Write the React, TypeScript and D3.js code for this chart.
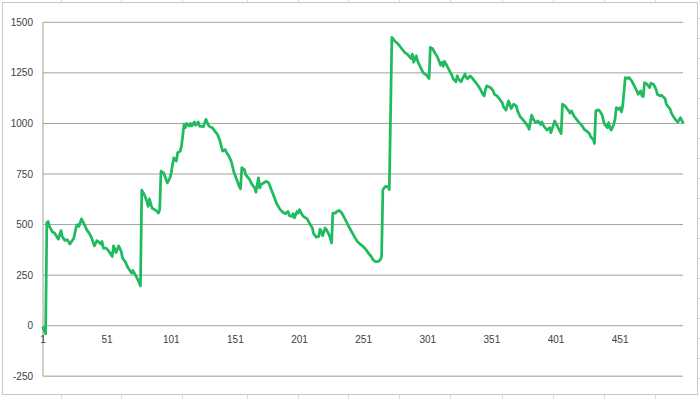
import React from "react";
import * as d3 from "d3";

// Category index (x) of each observed vertex of the series
const pointIndex = [
  1, 2, 3, 4, 5, 6, 8, 10, 13, 15, 16, 18, 20, 22, 25, 27, 28, 29, 31, 33, 35, 37, 39, 41, 43, 44, 46, 47, 48, 50,
  52, 55, 56, 58, 60, 62, 63, 65, 67, 70, 71, 73, 75, 77, 78, 80, 82, 83, 84, 86, 88, 90, 91, 92, 93, 95, 98, 100,
  101, 102, 103, 105, 106, 108, 109, 111, 112, 113, 115, 116, 117, 119, 120, 122, 123, 126, 128, 130, 131, 133,
  135, 137, 139, 140, 141, 143, 144, 146, 148, 149, 150, 152, 154, 155, 156, 158, 159, 162, 164, 166, 167, 169,
  170, 171, 175, 177, 179, 181, 183, 184, 186, 188, 190, 192, 193, 195, 196, 197, 199, 200, 201, 203, 204, 207,
  209, 211, 212, 214, 216, 217, 218, 219, 221, 222, 224, 225, 226, 227, 229, 230, 232, 234, 236, 238, 240, 242,
  244, 246, 248, 250, 251, 253, 255, 257, 258, 260, 262, 264, 265, 266, 268, 270, 271, 273, 275, 277, 279, 281,
  283, 285, 286, 288, 289, 290, 292, 293, 295, 297, 298, 300, 302, 303, 305, 306, 308, 309, 311, 312, 313, 314,
  316, 318, 320, 321, 323, 324, 325, 327, 328, 330, 331, 332, 334, 336, 338, 340, 342, 344, 345, 346, 347, 350,
  352, 353, 355, 357, 359, 360, 362, 364, 365, 366, 368, 370, 371, 373, 375, 377, 379, 380, 382, 383, 385, 387,
  389, 390, 391, 393, 394, 396, 397, 400, 402, 404, 405, 406, 408, 410, 412, 413, 415, 417, 419, 421, 423, 425,
  427, 428, 430, 431, 432, 434, 435, 437, 438, 439, 441, 442, 443, 444, 446, 447, 448, 450, 451, 452, 453, 455,
  457, 458, 460, 462, 464, 465, 467, 468, 469, 470, 472, 474, 475, 477, 479, 480, 482, 483, 486, 487, 488, 490,
  491, 493, 495, 496, 498, 500,
];

// Series value at each of those vertices
const pointValue = [
  -10, -25, -40, 510, 515, 491, 466, 458, 428, 470, 441, 422, 425, 404, 433, 491, 500, 491, 528, 504, 475, 458, 433,
  395, 420, 417, 404, 417, 384, 384, 372, 342, 395, 362, 395, 367, 334, 318, 290, 260, 273, 251, 227, 197, 670, 648,
  615, 590, 627, 582, 574, 565, 557, 574, 764, 756, 706, 731, 756, 797, 830, 814, 855, 863, 888, 996, 979, 1000, 987,
  1000, 987, 1007, 991, 1007, 987, 984, 1020, 991, 984, 979, 962, 946, 913, 888, 863, 871, 858, 838, 808, 781, 756,
  723, 689, 677, 781, 772, 747, 723, 698, 681, 660, 731, 681, 698, 714, 706, 673, 640, 607, 594, 574, 561, 554, 565,
  544, 541, 554, 533, 565, 557, 574, 549, 541, 528, 504, 483, 455, 438, 441, 478, 466, 445, 483, 475, 450, 433, 409,
  557, 557, 565, 570, 557, 533, 508, 483, 461, 438, 417, 405, 395, 389, 375, 356, 342, 329, 317, 317, 326, 342, 673,
  689, 686, 673, 1425, 1409, 1398, 1384, 1367, 1351, 1343, 1335, 1321, 1343, 1302, 1334, 1310, 1282, 1255, 1248,
  1239, 1222, 1376, 1368, 1354, 1334, 1321, 1288, 1302, 1282, 1307, 1285, 1260, 1235, 1219, 1206, 1235, 1219, 1206,
  1220, 1244, 1227, 1220, 1235, 1222, 1206, 1189, 1169, 1144, 1136, 1169, 1186, 1177, 1161, 1144, 1136, 1120, 1103,
  1083, 1066, 1111, 1095, 1073, 1095, 1087, 1062, 1034, 1020, 1004, 987, 971, 1041, 1024, 1004, 1012, 995, 1007, 991,
  974, 967, 979, 954, 1012, 987, 962, 950, 1095, 1087, 1070, 1051, 1062, 1037, 1020, 1004, 991, 971, 962, 950, 934,
  921, 901, 1062, 1067, 1062, 1041, 1012, 995, 979, 1004, 979, 967, 995, 1021, 1078, 1070, 1078, 1057, 1087, 1227,
  1222, 1227, 1211, 1186, 1161, 1144, 1161, 1136, 1133, 1202, 1194, 1177, 1199, 1194, 1169, 1144, 1136, 1140, 1123,
  1095, 1087, 1070, 1051, 1029, 1012, 1007, 1029, 1004,
];

const xTickLabels = [1, 51, 101, 151, 201, 251, 301, 351, 401, 451];
const yTickValues = [-250, 0, 250, 500, 750, 1000, 1250, 1500];

const W = 700;
const H = 399;

export default function App() {
  const x = d3.scaleLinear().domain([1, 500]).range([43, 683]);
  const y = d3.scaleLinear().domain([-250, 1500]).range([376.3, 22.3]);

  const data = pointIndex.map((i, k) => [i, pointValue[k]] as [number, number]);
  const line = d3
    .line<[number, number]>()
    .x((d) => x(d[0]))
    .y((d) => y(d[1]));

  const cellCols = [61, 121, 182, 247, 298, 348, 399, 450, 502, 553, 604, 655];
  const cellRows = [18, 38, 58, 78, 98, 118, 138, 158, 178, 198, 218, 238, 258, 278, 298, 318, 338, 358, 378];

  return (
    <svg
      width={W}
      height={H}
      style={{ position: "absolute", left: 0, top: 0, display: "block" }}
      fontFamily="'Liberation Sans', Arial, sans-serif"
    >
      <rect x={0} y={0} width={W} height={H} fill="#ffffff" />
      {/* faint spreadsheet cell lines outside the chart */}
      {cellCols.map((c) => (
        <g key={"c" + c}>
          <line x1={c + 0.5} x2={c + 0.5} y1={0} y2={2} stroke="#d8d8d8" />
          <line x1={c + 0.5} x2={c + 0.5} y1={395} y2={399} stroke="#d8d8d8" />
        </g>
      ))}
      {cellRows.map((r) => (
        <line key={"r" + r} x1={697} x2={700} y1={r + 0.5} y2={r + 0.5} stroke="#d8d8d8" />
      ))}
      {/* chart area */}
      <rect x={2.5} y={2.5} width={695} height={392} fill="#ffffff" stroke="#c6c6c6" strokeWidth={1} />

      {/* gridlines */}
      {yTickValues.map((v) => (
        <line
          key={"g" + v}
          x1={43}
          x2={683}
          y1={y(v)}
          y2={y(v)}
          stroke={v === -250 ? "#bdbdbd" : "#a0a0a0"}
          strokeWidth={v === -250 ? 1.5 : 1}
        />
      ))}
      {/* vertical axis line */}
      <line x1={43} x2={43} y1={y(1500)} y2={y(-250)} stroke="#a0a0a0" strokeWidth={1} />

      {/* y tick labels */}
      {yTickValues.map((v) => (
        <text key={"yl" + v} x={33} y={y(v) + 3.5} textAnchor="end" fontSize={10} fill="#404040">
          {v}
        </text>
      ))}

      {/* x tick labels */}
      {xTickLabels.map((c) => (
        <text key={"xl" + c} x={x(c)} y={343} textAnchor="middle" fontSize={10} fill="#404040">
          {c}
        </text>
      ))}

      {/* series */}
      <path
        d={line(data) || ""}
        fill="none"
        stroke="#1fbb5e"
        strokeWidth={2.75}
        strokeLinejoin="round"
        strokeLinecap="round"
      />
    </svg>
  );
}
